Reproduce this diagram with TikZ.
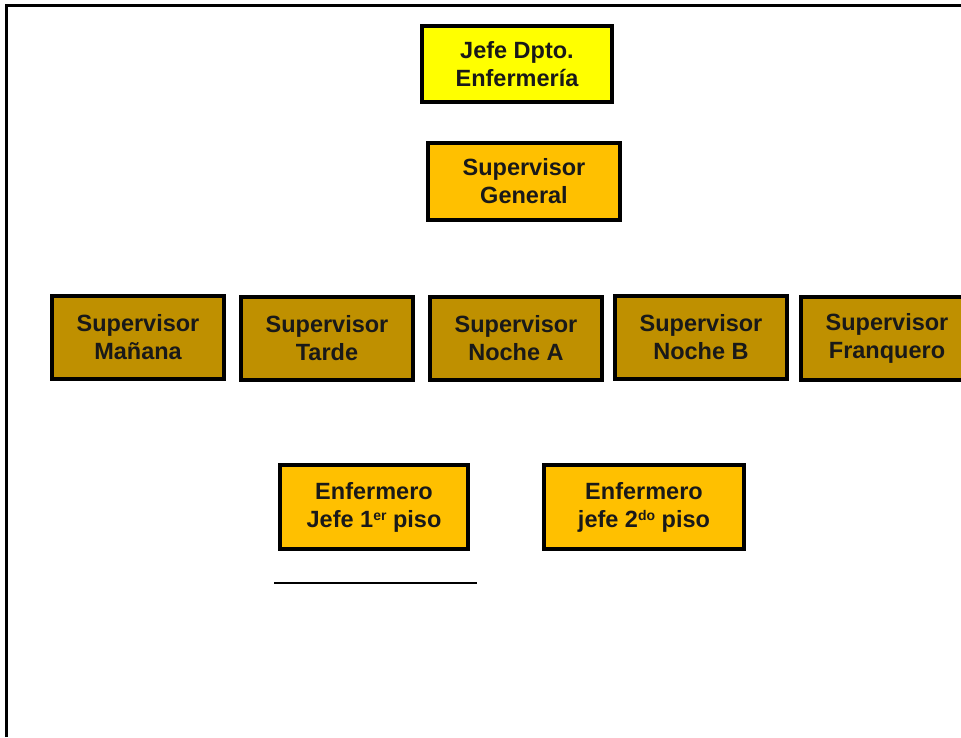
\documentclass[tikz,border=0pt]{standalone}
\usepackage{fontspec}
\setmainfont{Liberation Sans}
\usepackage{tikz}
\usetikzlibrary{calc,positioning}
\usepackage{xcolor,color}
\definecolor{jefeyellow}{HTML}{FFFF00}
\definecolor{supgold}{HTML}{FFC000}
\definecolor{turnogold}{HTML}{BF9000}

\tikzset{
	cargo/.style={draw=black, line width=4pt, align=center, inner sep=0pt,
		font=\fontsize{23.5}{28}\selectfont\bfseries, text=black!90},
	jefebox/.style={cargo, fill=jefeyellow},
	supbox/.style={cargo, fill=supgold},
	turnobox/.style={cargo, fill=turnogold, minimum width=172pt, minimum height=83pt}
}

\begin{document}
\begin{tikzpicture}[x=1pt,y=-1pt]
		\useasboundingbox (0,0) rectangle (961,737);
		% marco
		\draw[line width=3pt] (6.5,737) -- (6.5,5.5) -- (961,5.5);
		
		\node[jefebox, minimum width=190pt, minimum height=76pt] (jefe) at (517,64) {Jefe Dpto.\\Enfermería};
		\node[supbox, minimum width=192pt, minimum height=77pt] (general) at (524,181.5) {Supervisor\\General};
		
		\foreach \name/\x/\y/\txt in {manana/138/337/Mañana, tarde/327/338/Tarde, nochea/516/338/Noche A, nocheb/701/337/Noche B, franquero/887/338.5/Franquero}
		\node[turnobox] (sup\name) at (\x,\y) {Supervisor\\\txt};
		
		\node[supbox, minimum width=188pt, minimum height=84pt] (enfuno) at (374,507) {Enfermero\\Jefe 1{\fontsize{14}{14}\selectfont\raisebox{7pt}{er}} piso};
		\node[supbox, minimum width=200pt, minimum height=84pt] (enfdos) at (644,507) {Enfermero\\jefe 2{\fontsize{14}{14}\selectfont\raisebox{7pt}{do}} piso};
		
		\coordinate (lineaizq) at (274,582.5);
		\coordinate (lineader) at (477,582.5);
		\draw[line width=2pt] (lineaizq) -- (lineader);
		%		\draw (jefe) -- (general);
\end{tikzpicture}
\end{document}
